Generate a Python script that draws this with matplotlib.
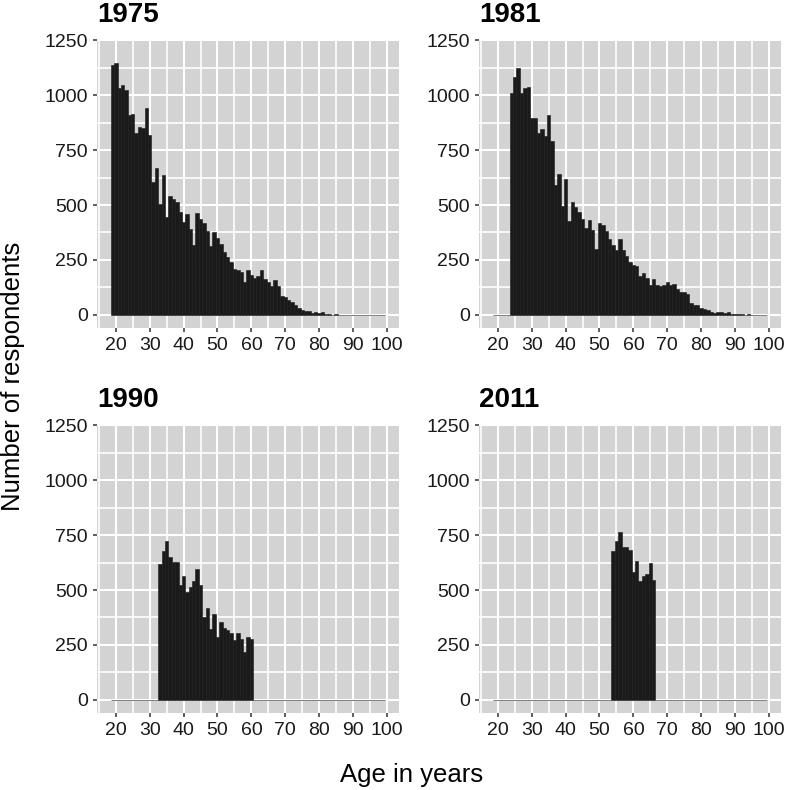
import numpy as np
import matplotlib
matplotlib.use('Agg')
import matplotlib.pyplot as plt

# --- Data: respondents per age (ages 19..99), one list per survey year --- #

years = ['1975', '1981', '1990', '2011']
ages = list(range(19, 100))

counts_1975 = [1136, 1148, 1034, 1045, 1026, 908, 915, 826, 855, 849,
               944, 817, 605, 669, 505, 637, 444, 543, 528, 512,
               467, 421, 459, 392, 316, 464, 438, 418, 383, 315,
               379, 350, 322, 284, 262, 239, 207, 202, 195, 149,
               205, 182, 167, 179, 202, 164, 149, 132, 157, 129,
               84, 79, 68, 59, 44, 30, 24, 18, 18, 9,
               14, 9, 11, 5, 3, 1, 2, 1, 1, 0,
               1, 1, 0, 0, 1, 0, 0, 0, 0, 0, 0]

counts_1981 = [0, 0, 0, 0, 0, 1012, 1083, 1124, 1010, 1034,
               1037, 896, 896, 828, 848, 813, 911, 790, 592, 643,
               495, 620, 425, 516, 491, 468, 437, 396, 430, 384,
               301, 419, 407, 381, 346, 316, 296, 343, 293, 270,
               240, 228, 222, 176, 190, 167, 138, 164, 134, 131,
               137, 149, 134, 141, 118, 103, 103, 96, 55, 47,
               43, 33, 27, 21, 15, 9, 11, 12, 8, 12,
               5, 3, 2, 4, 1, 2, 1, 0, 1, 0, 0]

# 1990: ages 33..60 observed
counts_1990 = [0] * 14 + [619, 676, 725, 649, 627, 627, 522, 566, 492, 513,
                          540, 596, 522, 377, 417, 322, 390, 287, 356, 329,
                          319, 303, 272, 303, 276, 216, 288, 279] + [0] * 39

# 2011: ages 54..66 observed
counts_2011 = [0] * 35 + [676, 725, 765, 696, 694, 684, 581, 631, 540, 566,
                          575, 623, 545] + [0] * 33

all_counts = [counts_1975, counts_1981, counts_1990, counts_2011]

# --- Figure setup --- #

plt.rcParams['font.family'] = ['Liberation Sans', 'DejaVu Sans']

fig = plt.figure(figsize=(7.87, 7.90), dpi=100)

W, H = 787.0, 790.0
pw, ph = 302.0, 289.0
#panel positions in pixels (left, top)
pos = [(97, 39), (479, 39), (97, 424), (479, 424)]

for (px, py), year, counts in zip(pos, years, all_counts):
    ax = fig.add_axes([px / W, 1 - (py + ph) / H, pw / W, ph / H])
    ax.set_facecolor('#d3d3d3')
    ax.bar(ages, counts, width=1.0, color='#1a1a1a', edgecolor='#1a1a1a', linewidth=0.4, zorder=3)

    ax.set_xlim(14.45, 103.55)
    ax.set_ylim(-60, 1256)

    ax.set_xticks(np.arange(20, 101, 10))
    ax.set_xticks(np.arange(15, 101, 10), minor=True)
    ax.set_yticks(np.arange(0, 1251, 250))
    ax.set_yticks(np.arange(125, 1250, 250), minor=True)

    ax.grid(which='major', color='white', linewidth=1.5)
    ax.grid(which='minor', color='white', linewidth=1.2)
    ax.set_axisbelow(True)

    for s in ax.spines.values():
        s.set_visible(False)

    ax.tick_params(which='major', length=3, width=1.1, color='#333333', pad=3.5,
                   labelsize=14, labelcolor='#1a1a1a')
    ax.tick_params(which='minor', length=0)

    ax.set_title(year, loc='left', pad=12, fontsize=20, fontweight='bold')

# --- Axis titles --- #
fig.text(412 / W, 1 - 775 / H, 'Age in years', ha='center', va='center', fontsize=18.5)
fig.text(13 / W, 1 - 376 / H, 'Number of respondents', ha='center', va='center',
         rotation=90, fontsize=18.5)

plt.savefig('out.png', dpi=100)
